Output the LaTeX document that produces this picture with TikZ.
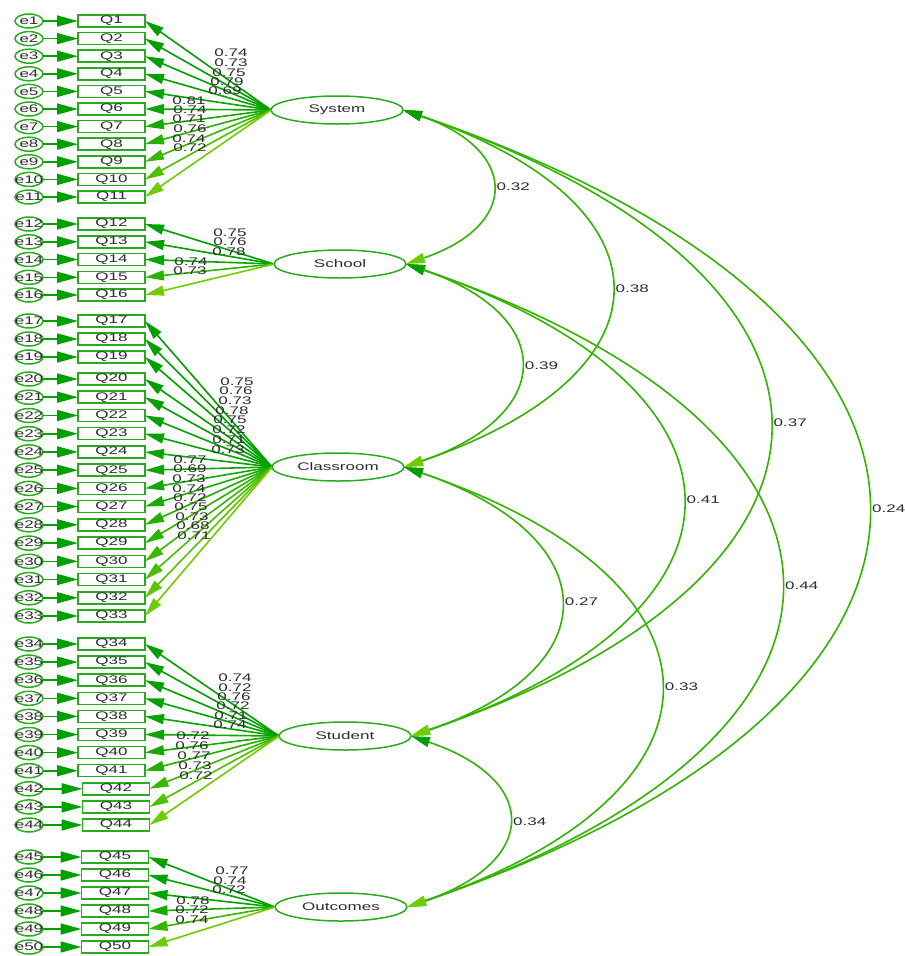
\documentclass[tikz,border=0pt]{standalone}
\usepackage{fontspec}
\setmainfont{Liberation Sans}
\usepackage{graphicx}
\usetikzlibrary{arrows.meta,shapes.geometric}
\definecolor{gDark}{RGB}{0,160,0}
\definecolor{gMid}{RGB}{50,180,0}
\definecolor{gLight}{RGB}{110,204,0}
\definecolor{outline}{RGB}{40,172,30}
\definecolor{textc}{RGB}{45,45,45}
% wide sans text, as the diagram program sets it
\newcommand{\wtxt}[1]{\scalebox{1.55}[1]{#1}}
\begin{document}
\begin{tikzpicture}[x=1pt,y=-1pt,
  every node/.style={font=\fontsize{11}{11}\selectfont, text=textc},
  errnode/.style={ellipse, draw=outline, line width=1.5pt, minimum width=28pt,
    minimum height=14pt, inner sep=0pt, outer sep=0pt},
  itembox/.style={rectangle, draw=outline, line width=1.5pt, minimum width=67pt,
    minimum height=12pt, inner sep=0pt, outer sep=0pt},
  latent/.style={ellipse, draw=outline, line width=1.5pt, minimum width=132pt,
    minimum height=28pt, inner sep=0pt, outer sep=0pt},
  errarrow/.style={draw=gDark, line width=1.6pt, -{Triangle[length=21pt,width=11pt]}},
  loadarrow/.style={line width=1.6pt, -{Triangle[length=19pt,width=10pt]}},
  covline/.style={draw=gMid, line width=1.6pt,
    {Triangle[length=19pt,width=10pt,color=gDark]}-{Triangle[length=19pt,width=10pt,color=gLight]}},
  loadlabel/.style={inner sep=0pt},
]
\useasboundingbox (0,0) rectangle (905,956);

% observed items with their error terms
\foreach \i/\y/\bx in {1/21/111.5, 2/38.6/111.5, 3/56.2/111.5, 4/73.8/111.5, 5/91.4/111.5,
  6/109/111.5, 7/126.6/111.5, 8/144.2/111.5, 9/161.8/111.5, 10/179.4/111.5, 11/197/111.5,
  12/224/111.5, 13/241.8/111.5, 14/259.5/111.5, 15/277.3/111.5, 16/295/111.5,
  17/321/111.5, 18/339/111.5, 19/357/111.5, 20/379/111.5, 21/397.2/111.5, 22/415.5/111.5,
  23/433.7/111.5, 24/451.9/111.5, 25/470.2/111.5, 26/488.4/111.5, 27/506.6/111.5,
  28/524.8/111.5, 29/543.1/111.5, 30/561.3/111.5, 31/579.5/111.5, 32/597.8/111.5, 33/616/111.5,
  34/644/111.5, 35/662.1/111.5, 36/680.2/111.5, 37/698.3/111.5, 38/716.4/111.5,
  39/734.5/111.5, 40/752.6/111.5, 41/770.7/111.5, 42/788.8/116, 43/806.9/116, 44/825/116,
  45/857/115, 46/875/115, 47/893/115, 48/911/115, 49/929/115, 50/947/115} {
  \node[errnode, label={center:\wtxt{e\i}}] (e\i) at (29,\y) {};
  \node[itembox] (q\i) at (\bx,\y) {\wtxt{Q\i}};
  \draw[errarrow] (e\i) -- (q\i);
}

% latent factors
\node[latent, label={center:\wtxt{System}}] (sys) at (337,110) {};
\node[latent, label={center:\wtxt{School}}] (sch) at (340,264) {};
\node[latent, label={center:\wtxt{Classroom}}] (cls) at (338,467) {};
\node[latent, label={center:\wtxt{Student}}] (stu) at (345,736) {};
\node[latent, label={center:\wtxt{Outcomes}}] (out) at (341,907) {};

% factor loadings
\foreach \f/\a/\b in {sys/1/11, sch/12/16, cls/17/33, stu/34/44, out/45/50} {
  \foreach \i in {\a,...,\b} {
    \pgfmathtruncatemacro\pct{100*((\i-\a)/(\b-\a))^3}
    \draw[loadarrow, color=gLight!\pct!gDark] (\f.west) -- (q\i.east);
  }
}

% loading values
\foreach \i/\x/\y/\v in {1/231/53/0.74, 2/231/63/0.73, 3/229/73/0.75, 4/227/82/0.79,
  5/225/91/0.69, 6/189/101/0.81, 7/190/110/0.74, 8/189/119/0.71, 9/190/129/0.76,
  10/189/139/0.74, 11/190/148/0.72,
  12/230/233/0.75, 13/230/242/0.76, 14/229/252/0.78, 15/191/262/0.74, 16/190/271/0.73,
  17/237/382/0.75, 18/236/391/0.76, 19/235/401/0.73, 20/232/411/0.78, 21/230/420/0.75,
  22/229/430/0.72, 23/229/440/0.71, 24/228/450/0.73, 25/190/460/0.77, 26/190/469/0.69,
  27/189/479/0.73, 28/189/489/0.74, 29/190/498/0.72, 30/191/507/0.75, 31/192/517/0.73,
  32/193/526/0.68, 33/194/536/0.71,
  34/235/678/0.74, 35/235/688/0.72, 36/234/697/0.76, 37/233/706/0.72, 38/231/716/0.71,
  39/230/725/0.74, 40/193/736/0.72, 41/192/746/0.76, 42/194/756/0.77, 43/195/766/0.73,
  44/196/776/0.72,
  45/232/871/0.77, 46/230/881/0.74, 47/229/890/0.72, 48/193/901/0.78, 49/192/910/0.72,
  50/192/920/0.74} {
  \node[loadlabel] (lab\i) at (\x,\y) {\wtxt{\v}};
}

% factor covariances
\foreach \p/\q/\k/\v in {sys/sch/115/0.32, sys/cls/275/0.38, sch/cls/152/0.39,
  sys/stu/481/0.37, sch/stu/363/0.41, cls/stu/202/0.27, sys/out/615/0.24,
  sch/out/497/0.44, cls/out/338/0.33, stu/out/131/0.34} {
  \draw[covline] (\p.east) .. controls +(\k,0.34*\k) and +(\k,-0.34*\k) ..
    node[pos=0.5, right=5pt, inner sep=0pt] (c\p\q) {\wtxt{\v}} (\q.east);
}
\end{tikzpicture}
\end{document}
